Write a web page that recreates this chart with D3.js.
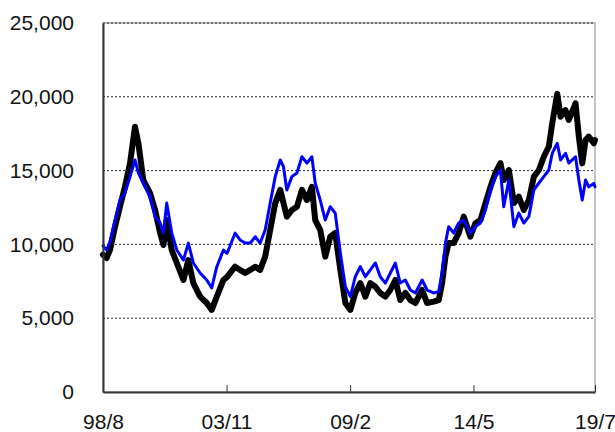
<!DOCTYPE html>
<html>
<head>
<meta charset="utf-8">
<script src="https://cdn.jsdelivr.net/npm/d3@7"></script>
<style>
    body { margin: 0; background: #fff; }
    text { font-family: 'Liberation Sans', Arial, sans-serif; }
</style>
</head>
<body>
<div id="chart"></div>
<script>
var dates = [
    '1998-08-01', '1998-09-27', '1998-11-17', '1999-02-04', '1999-04-21',
    '1999-07-08', '1999-09-25', '1999-12-11', '2000-02-01', '2000-04-18',
    '2000-08-01', '2000-10-18', '2001-01-04', '2001-02-25', '2001-04-16',
    '2001-07-03', '2001-09-20', '2002-01-01', '2002-03-18', '2002-06-04',
    '2002-09-17', '2002-12-29', '2003-03-16', '2003-06-03', '2003-09-14',
    '2003-11-10', '2004-03-13', '2004-05-30', '2004-08-16', '2004-11-03',
    '2005-01-20', '2005-04-06', '2005-06-23', '2005-09-09', '2005-11-26',
    '2006-02-12', '2006-04-03', '2006-05-25', '2006-08-12', '2006-10-29',
    '2007-01-15', '2007-04-02', '2007-06-18', '2007-08-09', '2007-10-26',
    '2008-01-12', '2008-03-29', '2008-06-15', '2008-09-02', '2008-11-19',
    '2009-02-05', '2009-04-22', '2009-07-09', '2009-09-25', '2009-12-12',
    '2010-02-28', '2010-05-15', '2010-08-01', '2010-10-18', '2011-01-04',
    '2011-03-21', '2011-06-08', '2011-08-25', '2011-11-11', '2012-02-24',
    '2012-05-10', '2012-08-21', '2012-11-08', '2012-12-30', '2013-02-20',
    '2013-04-11', '2013-06-28', '2013-09-14', '2013-12-01', '2014-03-14',
    '2014-05-30', '2014-08-17', '2014-11-04', '2015-01-20', '2015-04-07',
    '2015-06-24', '2015-08-14', '2015-11-01', '2016-01-18', '2016-04-04',
    '2016-06-21', '2016-09-07', '2016-11-24', '2017-02-10', '2017-04-27',
    '2017-07-14', '2017-09-05', '2017-11-22', '2018-01-13', '2018-03-30',
    '2018-05-20', '2018-09-02', '2018-10-23', '2018-12-15', '2019-02-05',
    '2019-03-26', '2019-06-13', '2019-07-01'
];

// thick black series
var blackValues = [
    9300, 9080, 9620, 11200, 12550,
    13900, 15510, 17970, 16870, 14360,
    13480, 12330, 10770, 9960, 11650,
    9620, 8740, 7590, 8940, 7380,
    6460, 6030, 5560, 6460, 7590,
    7800, 8490, 8270, 8060, 8270,
    8490, 8270, 9170, 10980, 12800,
    13690, 12800, 11880, 12330, 12550,
    13690, 13000, 13900, 11650, 10980,
    9170, 10520, 10770, 8270, 6030,
    5560, 6710, 7380, 6460, 7380,
    7130, 6710, 6460, 6910, 7590,
    6230, 6710, 6230, 6030, 6910,
    6030, 6120, 6230, 7380, 9170,
    10090, 10090, 10770, 11880, 10520,
    11430, 11650, 12800, 13900, 14840,
    15510, 14360, 15040, 12800, 13230,
    12330, 13000, 14590, 15040, 15940,
    16620, 18200, 20200, 18650, 19100,
    18430, 19560, 17300, 15490, 17070,
    17300, 16850, 17070
];

// thinner blue series
var blueValues = [
    9900, 9620, 10180, 11650, 13000,
    13480, 14590, 15720, 14840, 14160,
    13230, 11880, 11450, 10770, 12800,
    10770, 9620, 8940, 10090, 8740,
    8060, 7590, 7050, 8490, 9620,
    9400, 10770, 10300, 10090, 10090,
    10520, 10090, 10980, 12800, 14590,
    15720, 15260, 13690, 14590, 14840,
    15940, 15510, 15940, 14160, 13000,
    11650, 12550, 12120, 9420, 7130,
    6460, 7810, 8490, 7810, 8270,
    8740, 7810, 7380, 8060, 8740,
    7380, 7590, 6910, 6710, 7590,
    6910, 6710, 6800, 8060, 10090,
    11200, 10770, 11450, 11650, 10750,
    11200, 11450, 12330, 13690, 14590,
    15040, 12550, 14360, 11200, 12120,
    11450, 11880, 13690, 14160, 14590,
    15040, 16170, 16850, 15720, 16170,
    15510, 15940, 14360, 13000, 14360,
    13900, 14130, 13900
];

var tickDates = ['1998-08-01', '2003-11-01', '2009-02-01', '2014-05-01', '2019-07-01'];
var yTicks = [0, 5000, 10000, 15000, 20000, 25000];

const margin = { top: 23, right: 20, bottom: 40, left: 103 };
const width = 492;
const height = 369;
const labelFont = "'Liberation Sans', Arial, sans-serif";

const parse = d3.timeParse('%Y-%m-%d');

const series = [
    { color: '#000000', stroke: 6, values: blackValues },
    { color: '#0000ff', stroke: 3, values: blueValues }
].map(s => ({
    color: s.color,
    stroke: s.stroke,
    points: dates.map((d, i) => ({ date: parse(d), value: s.values[i] }))
}));

var svg = d3
    .select('#chart')
    .append('svg')
    .attr('width', 615)
    .attr('height', 432)
    .append('g')
    .attr('transform', 'translate(' + margin.left + ',' + margin.top + ')');

var x = d3
    .scaleTime()
    .domain([parse(tickDates[0]), parse(tickDates[tickDates.length - 1])])
    .range([0, width]);

var y = d3.scaleLinear().domain([0, 25000]).range([height, 0]);

// plot frame
svg.append('rect')
    .attr('width', width)
    .attr('height', height)
    .attr('fill', 'none')
    .attr('stroke', '#888')
    .attr('stroke-width', 1);

// dotted grid lines
svg.append('g')
    .selectAll('line')
    .data(yTicks.filter(d => d > 0))
    .enter()
    .append('line')
    .attr('x1', 0)
    .attr('x2', width)
    .attr('y1', d => y(d))
    .attr('y2', d => y(d))
    .attr('stroke', '#222')
    .attr('stroke-width', 1)
    .attr('stroke-dasharray', '2,2');

// lines, blue drawn on top
const line = d3
    .line()
    .x(d => x(d.date))
    .y(d => y(d.value));

series.forEach(s => {
    svg.append('path')
        .datum(s.points)
        .attr('fill', 'none')
        .attr('stroke', s.color)
        .attr('stroke-width', s.stroke)
        .attr('stroke-linejoin', 'round')
        .attr('stroke-linecap', 'round')
        .attr('d', line);
});

// y axis
var yAxis = svg.append('g')
    .call(d3.axisLeft(y).tickValues(yTicks).tickSize(0).tickPadding(29)
        .tickFormat(d3.format(',')));
yAxis.select('.domain').attr('stroke', '#333').attr('stroke-width', 2);
yAxis.selectAll('text')
    .attr('font-size', 21)
    .attr('fill', '#111')
    .style('font-family', labelFont);

// x axis, ticks point up into the plot
var xAxis = svg.append('g')
    .attr('transform', 'translate(0,' + height + ')')
    .call(d3.axisBottom(x)
        .tickValues(tickDates.map(parse))
        .tickSize(-7)
        .tickSizeOuter(0)
        .tickPadding(22)
        .tickFormat(d3.timeFormat('%y/%-m')));
xAxis.select('.domain').attr('stroke', '#333').attr('stroke-width', 2);
xAxis.selectAll('.tick line').attr('stroke', '#333');
xAxis.selectAll('text')
    .attr('font-size', 21)
    .attr('fill', '#111')
    .style('font-family', labelFont);
</script>
</body>
</html>
